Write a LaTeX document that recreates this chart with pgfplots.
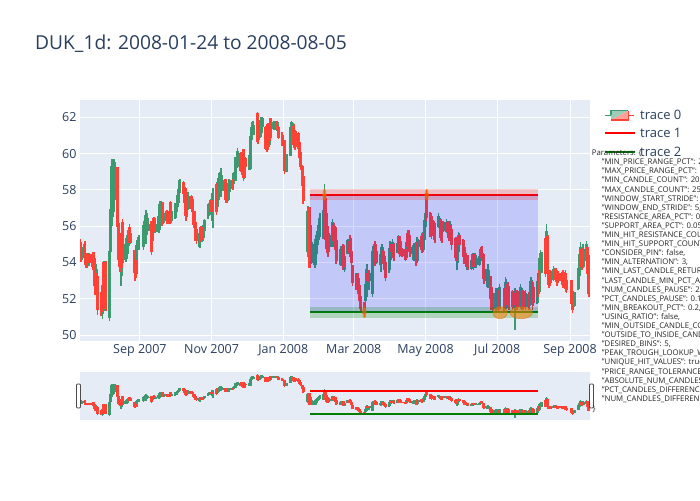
\documentclass[border=0pt]{standalone}
\usepackage{fontspec}
\setmainfont{Open Sans}
\usepackage{pgfplots}
\usepackage{pgfplotstable}
\pgfplotsset{compat=1.18}
\definecolor{bg}{HTML}{E5ECF6}
\definecolor{inc}{HTML}{3D9970}
\definecolor{dec}{HTML}{FF4136}
\definecolor{txt}{HTML}{2A3F5F}
\definecolor{pgreen}{HTML}{008000}
\definecolor{rred}{HTML}{FF0000}

\pgfplotstableread{
d o h l c
-52 54.3 55.2 54.1 55.0
-51 55.1 55.3 54.0 54.2
-50 54.2 55.1 54.0 54.8
-47 55.0 55.2 54.1 54.3
-46 54.3 54.5 53.7 53.9
-45 53.9 54.4 53.7 54.2
-44 54.0 54.5 53.8 54.4
-43 54.4 54.5 53.8 54.0
-40 54.4 54.6 53.6 53.8
-39 54.2 54.6 52.7 52.9
-38 53.4 53.6 52.2 52.5
-37 52.3 53.9 52.1 53.6
-36 53.2 53.3 51.1 51.4
-33 52.3 52.4 51.05 51.3
-32 51.2 53.0 50.9 52.7
-31 54.0 54.1 51.2 51.5
-30 51.5 54.1 51.3 53.9
-29 53.9 54.1 51.3 51.5
-26 51.0 55.0 50.75 54.6
-25 54.6 57.2 54.4 56.9
-24 56.6 59.7 56.0 59.3
-23 57.2 59.7 56.5 59.4
-22 57.5 59.7 56.8 59.5
-19 59.2 59.25 55.6 56.0
-18 56.1 56.2 53.9 54.2
-17 55.4 55.6 53.5 53.8
-16 53.3 55.6 52.7 55.2
-15 56.2 56.4 53.7 54.0
-12 54.2 55.2 54.0 55.0
-11 54.5 55.5 54.2 55.3
-10 55.0 55.8 54.5 55.6
-9 55.9 56.1 54.9 55.1
-8 55.1 55.8 55.0 55.6
-5 54.6 54.7 53.4 53.6
-4 54.1 54.3 53.0 53.2
-3 53.4 55.2 53.3 54.9
-2 54.9 55.4 54.8 55.2
-1 55.0 55.5 54.7 55.3
3 54.9 56.3 54.7 56.0
4 55.2 56.0 54.9 55.8
5 55.4 56.9 55.0 56.6
6 55.8 56.7 55.5 56.4
9 56.1 56.3 55.6 55.8
10 56.2 56.3 54.4 54.6
11 55.3 56.3 55.2 56.1
12 56.4 56.5 55.7 55.9
13 55.7 56.3 55.6 56.1
16 55.7 56.7 55.6 56.5
17 55.9 57.4 55.8 57.2
18 56.8 57.4 56.7 57.3
19 57.3 57.35 56.0 56.2
20 56.2 56.9 56.1 56.7
23 56.8 56.9 56.1 56.3
24 56.5 56.6 56.1 56.2
25 56.2 56.9 56.1 56.8
26 57.3 57.4 56.1 56.3
27 56.3 57.0 56.2 56.8
30 56.5 57.3 56.4 57.1
31 56.8 57.4 56.6 57.2
32 57.1 57.9 57.0 57.7
33 57.4 58.2 57.3 58.0
34 57.9 58.6 57.8 58.5
37 58.4 58.5 57.6 57.8
38 58.1 58.3 57.1 57.3
39 58.0 58.1 56.3 56.6
40 56.7 57.6 56.5 57.4
41 57.0 57.9 56.9 57.6
44 57.6 57.7 56.8 57.0
45 57.3 57.5 56.6 56.8
46 56.8 56.85 55.9 56.1
47 56.2 56.3 55.2 55.4
48 55.8 56.0 55.0 55.2
51 54.9 55.8 54.8 55.6
52 55.9 56.0 55.1 55.3
53 55.3 56.0 55.1 55.8
54 55.4 56.2 55.2 56.0
55 55.8 56.4 55.7 56.3
58 56.6 57.2 56.4 57.0
59 56.9 57.3 56.6 57.2
60 56.8 57.5 56.6 57.4
61 57.4 57.7 56.5 56.8
62 56.3 58.1 55.9 57.8
65 58.3 58.4 56.6 56.8
66 57.1 58.6 57.0 58.4
67 57.5 58.8 57.1 58.6
68 57.8 59.0 57.7 58.9
69 58.0 59.2 57.6 58.8
72 58.5 58.6 57.9 58.0
73 58.4 58.6 57.3 57.5
74 58.2 58.4 57.3 57.4
75 57.5 58.2 57.4 58.0
76 57.9 58.6 57.8 58.5
79 58.5 58.6 58.0 58.1
80 58.4 59.0 58.3 58.9
81 58.5 59.8 58.5 59.6
83 59.3 60.3 59.2 60.1
86 60.0 60.1 59.0 59.1
87 59.9 60.0 58.8 59.0
88 60.2 60.25 58.5 58.7
89 58.7 59.9 58.6 59.7
90 59.7 59.8 59.2 59.3
93 59.2 59.9 59.1 59.7
94 59.2 61.1 59.1 60.9
95 60.8 61.5 60.7 61.4
96 61.2 61.8 61.1 61.7
97 61.3 61.6 61.0 61.5
100 62.2 62.3 60.5 60.7
101 61.8 61.9 60.5 60.8
102 60.9 61.8 60.85 61.6
103 61.2 62.0 60.9 61.8
104 61.5 62.0 61.4 61.9
107 61.4 61.45 60.2 60.3
108 61.5 61.55 60.1 60.3
109 61.6 61.7 60.2 60.4
110 60.5 61.3 60.4 61.2
111 61.9 61.95 60.7 60.9
114 61.4 61.8 61.3 61.7
116 61.7 61.8 61.3 61.4
117 61.3 61.8 61.2 61.7
118 61.4 61.5 60.8 60.9
121 61.0 61.2 60.4 60.6
123 60.7 60.75 58.9 59.1
124 59.1 60.0 59.0 59.8
125 59.3 60.0 59.0 59.8
128 59.9 61.6 59.85 61.4
129 61.1 61.8 61.0 61.7
130 61.2 61.7 60.9 61.5
131 61.5 61.6 60.3 60.5
132 61.2 61.3 60.2 60.4
135 61.1 61.2 60.2 60.3
136 60.6 60.65 59.6 59.8
137 60.0 60.1 59.1 59.3
138 59.3 59.35 58.2 58.4
139 58.7 58.75 57.2 57.4
143 54.6 57.1 54.3 56.8
144 57.0 57.05 53.7 54.0
145 56.0 56.1 53.7 54.2
146 54.0 55.4 53.9 55.1
149 53.9 55.3 53.7 55.0
150 54.5 55.5 54.3 55.3
151 55.0 56.0 54.8 55.7
152 55.3 56.2 55.1 56.0
153 55.6 56.7 55.4 56.4
156 55.5 56.9 55.3 56.7
157 56.2 58.3 55.9 57.7
158 57.5 57.6 55.0 55.3
159 56.5 56.7 54.5 54.8
160 55.6 56.0 54.3 54.6
163 54.9 55.6 54.85 55.5
164 55.3 56.4 55.2 56.2
165 56.0 56.2 55.0 55.2
166 55.9 56.0 54.7 54.9
167 55.2 55.4 53.9 54.1
171 53.9 54.9 53.8 54.7
172 54.2 54.8 54.1 54.6
173 54.9 55.0 53.6 53.8
174 53.6 54.5 53.5 54.3
177 54.5 55.3 54.45 55.2
178 55.1 55.2 54.5 54.7
179 55.3 55.5 54.3 54.5
180 54.6 54.8 53.8 54.0
181 53.8 53.85 52.7 52.9
184 52.7 53.4 52.5 53.2
185 53.3 53.4 52.3 52.5
186 53.1 53.4 52.1 52.3
187 52.7 52.8 51.7 51.9
188 52.1 52.15 51.3 51.5
191 51.8 51.85 51.0 51.2
192 51.9 53.0 51.8 52.8
193 52.3 53.9 52.1 53.6
194 53.4 53.6 52.9 53.0
195 53.0 53.6 52.5 53.4
198 52.3 54.9 52.1 54.6
199 54.2 54.9 53.8 54.7
200 55.0 55.2 53.8 54.0
201 54.0 54.9 53.9 54.6
205 53.9 54.8 53.5 54.4
206 54.0 55.0 53.9 54.8
207 54.6 54.7 53.9 54.0
208 54.3 54.4 53.4 53.6
209 54.0 54.1 53.0 53.2
212 53.6 54.8 53.4 54.6
213 54.2 55.2 54.0 55.0
214 55.0 55.05 54.4 54.6
215 54.5 55.3 54.4 55.1
216 55.0 55.1 54.1 54.3
219 54.6 55.1 54.5 55.0
220 54.9 55.5 54.8 55.4
221 55.4 55.45 54.3 54.5
222 55.1 55.2 54.6 54.8
223 54.7 54.8 54.3 54.4
226 54.7 54.8 54.1 54.2
227 54.3 55.4 54.2 55.1
228 55.6 55.8 54.7 54.9
229 55.5 55.8 54.6 54.8
230 54.8 55.0 54.3 54.5
233 54.2 55.1 54.1 54.9
234 54.6 55.1 54.5 55.0
235 55.0 55.1 53.8 54.0
236 54.1 55.4 54.0 55.2
237 54.9 55.3 54.8 55.2
240 55.4 55.6 54.5 54.7
241 54.7 55.7 54.6 55.5
242 55.3 56.5 55.0 56.3
243 56.0 56.9 55.9 56.7
244 57.8 58.0 56.3 56.5
247 56.7 56.8 55.4 55.6
248 56.5 56.6 55.3 55.5
249 56.3 56.5 55.5 55.7
250 56.2 56.3 55.3 55.5
251 56.0 56.2 55.1 55.3
254 56.0 56.7 55.9 56.5
255 56.1 56.5 56.0 56.4
256 56.3 56.4 55.2 55.4
257 56.1 56.3 55.1 55.3
258 55.8 56.3 55.7 56.2
261 55.7 56.4 55.6 56.2
262 56.2 56.3 55.6 55.7
263 56.0 56.1 55.2 55.4
264 55.6 56.3 55.5 56.1
265 55.8 55.9 54.7 55.0
269 55.3 55.4 54.1 54.3
270 54.0 55.2 53.6 54.9
271 54.6 55.7 54.5 55.5
272 55.5 55.6 54.8 55.0
275 55.2 55.3 54.3 54.5
276 54.8 54.9 53.9 54.1
277 54.5 54.7 53.8 54.0
278 53.8 54.3 53.6 54.2
279 54.3 54.4 53.6 53.8
282 53.7 54.2 53.6 54.1
283 53.9 54.5 53.8 54.4
284 54.4 54.5 53.6 53.8
285 53.8 54.5 53.7 54.3
286 53.9 54.4 53.7 54.2
289 53.9 54.4 53.8 54.3
290 54.2 54.8 54.1 54.7
291 54.8 54.9 54.1 54.3
292 54.4 54.5 53.1 53.3
293 53.6 53.9 52.8 53.0
296 52.7 53.9 52.6 53.6
297 53.0 53.6 52.8 53.4
298 53.2 53.25 52.0 52.2
299 52.6 52.8 51.4 51.6
300 52.3 52.5 51.2 51.4
303 51.5 52.6 51.3 52.3
304 51.6 52.6 51.4 52.4
305 52.4 52.5 51.3 51.5
306 51.5 52.8 51.4 52.6
310 52.5 52.6 51.3 51.5
311 51.5 53.2 51.4 52.9
312 52.0 53.1 51.9 52.8
313 52.8 52.9 51.5 51.7
314 52.6 52.7 51.4 51.6
317 52.4 52.5 51.4 51.6
318 51.6 52.4 51.5 52.2
319 51.7 52.6 50.3 52.3
320 52.3 52.5 51.5 51.7
321 52.4 52.5 51.4 51.6
324 51.6 52.8 51.5 52.6
325 51.5 52.6 51.4 52.4
326 52.4 52.5 51.4 51.6
327 52.2 52.4 51.5 51.7
328 51.6 52.5 51.4 52.3
331 52.2 52.4 51.4 51.6
332 51.7 53.0 51.6 52.8
333 52.0 53.2 51.9 53.0
334 52.9 53.0 51.4 51.7
335 52.6 52.7 51.6 51.8
338 51.8 53.0 51.7 52.8
339 53.4 53.6 52.1 52.3
340 52.4 54.5 52.3 54.2
341 53.8 54.7 53.5 54.4
342 53.5 54.6 53.4 54.5
345 55.3 55.5 53.2 53.4
346 53.9 56.1 53.8 55.7
347 55.4 55.5 53.2 53.4
348 53.5 53.6 52.6 52.8
349 53.5 53.6 52.7 52.9
352 53.1 53.8 53.0 53.6
353 53.2 53.7 53.1 53.6
354 53.6 53.7 52.9 53.1
355 53.5 53.6 52.7 52.9
356 53.0 53.5 52.9 53.4
359 53.4 53.5 52.8 53.0
360 53.3 53.6 52.6 52.8
361 53.3 53.5 52.7 52.9
362 53.4 53.6 52.4 52.6
363 53.0 53.2 52.3 52.5
367 53.0 53.05 51.7 51.9
368 52.4 52.45 51.2 51.4
369 51.6 52.3 51.4 52.2
370 51.8 52.4 51.6 52.2
373 52.6 53.7 52.5 53.5
374 53.3 54.7 53.2 54.4
375 53.9 55.1 53.8 54.8
376 54.7 54.8 53.6 53.8
377 53.8 55.0 53.7 54.7
380 54.1 55.2 53.8 55.0
381 54.8 54.9 53.2 53.4
382 54.2 54.4 52.1 52.3
}\data

\newcommand{\candleset}[2]{%
  \addplot[draw=none, mark=none, forget plot,
    restrict expr to domain={\thisrow{c}-\thisrow{o}}{#2},
    error bars/.cd, y dir=both, y explicit, error mark=none,
    error bar style={draw=#1, line width=1.6pt}]
    table[x=d, y expr={(\thisrow{h}+\thisrow{l})/2},
      y error expr={(\thisrow{h}-\thisrow{l})/2}] {\data};
  \addplot[draw=none, mark=none, forget plot,
    restrict expr to domain={\thisrow{c}-\thisrow{o}}{#2},
    error bars/.cd, y dir=both, y explicit, error mark=none,
    error bar style={draw=#1, line width=3.1pt}]
    table[x=d, y expr={(\thisrow{o}+\thisrow{c})/2},
      y error expr={abs(\thisrow{c}-\thisrow{o})/2+0.04}] {\data};
}

\begin{document}
\begin{tikzpicture}
\useasboundingbox (0pt,0pt) rectangle (700pt,500pt);
\fill[white] (0pt,0pt) rectangle (700pt,500pt);

% title
\node[anchor=base west, inner sep=0pt, text=txt, font=\fontsize{19.2}{21}\selectfont] at (35pt,450pt) {DUK\_1d: 2008-01-24 to 2008-08-05};

% main axis
\begin{axis}[
  at={(80pt,159.3pt)}, anchor=south west, scale only axis,
  width=510pt, height=240.7pt,
  xmin=-51, xmax=383, ymin=49.69, ymax=62.95,
  axis background/.style={fill=bg},
  axis line style={draw=none},
  major tick length=0pt,
  grid=major, grid style={white, line width=1pt},
  xtick={0,61,122,182,243,304,366},
  xticklabels={Sep 2007,Nov 2007,Jan 2008,Mar 2008,May 2008,Jul 2008,Sep 2008},
  ytick={50,52,54,56,58,60,62},
  /pgf/number format/assume math mode=true,
  ticklabel style={font=\fontsize{12.5}{14}\selectfont, text=txt},
  clip=true,
]
\candleset{inc}{0.0001:100}
\candleset{dec}{-100:-0.0001}
\addplot[rred, line width=2pt, forget plot] coordinates {(145,57.72) (339,57.72)};
\addplot[pgreen, line width=2pt, forget plot] coordinates {(145,51.25) (339,51.25)};
\addplot[draw=none, fill=blue, fill opacity=0.15, forget plot] coordinates {(145,51.25) (339,51.25) (339,57.72) (145,57.72)} -- cycle;
\addplot[draw=none, fill=red, fill opacity=0.2, forget plot] coordinates {(145,57.42) (339,57.42) (339,58.02) (145,58.02)} -- cycle;
\addplot[draw=none, fill=pgreen, fill opacity=0.22, forget plot] coordinates {(145,50.95) (339,50.95) (339,51.55) (145,51.55)} -- cycle;
\addplot[only marks, mark=*, mark size=5.5pt, forget plot,
  mark options={xscale=0.32, fill=orange, fill opacity=0.55, draw=orange!85!black, draw opacity=0.6, line width=0.6pt}]
  coordinates {(157,57.72) (244,57.72) (191,51.25)};
\addplot[only marks, mark=*, mark size=6pt, forget plot,
  mark options={xscale=1.2, fill=orange, fill opacity=0.55, draw=orange!85!black, draw opacity=0.6, line width=0.6pt}]
  coordinates {(306.5,51.23)};
\addplot[only marks, mark=*, mark size=6pt, forget plot,
  mark options={xscale=1.86, fill=orange, fill opacity=0.55, draw=orange!85!black, draw opacity=0.6, line width=0.6pt}]
  coordinates {(324.4,51.23)};
\end{axis}

% range slider
\begin{axis}[
  at={(80pt,80pt)}, anchor=south west, scale only axis,
  width=510pt, height=48pt,
  xmin=-51, xmax=383, ymin=49.69, ymax=62.95,
  axis background/.style={fill=bg},
  axis line style={draw=none},
  ticks=none,
  clip=true,
]
\candleset{inc}{0.0001:100}
\candleset{dec}{-100:-0.0001}
\addplot[rred, line width=2pt, forget plot] coordinates {(145,57.72) (339,57.72)};
\addplot[pgreen, line width=2pt, forget plot] coordinates {(145,51.25) (339,51.25)};
\end{axis}
% slider handles
\draw[fill=white, draw=black!70, line width=0.8pt, rounded corners=1pt] (76.5pt,92pt) rectangle (80.5pt,116pt);
\draw[fill=white, draw=black!70, line width=0.8pt, rounded corners=1pt] (589.5pt,92pt) rectangle (593.5pt,116pt);

% legend
\fill[inc!50!white] (611pt,380pt) -- (611pt,389.3pt) -- (628.3pt,389.3pt) -- cycle;
\fill[dec!50!white] (611pt,380pt) -- (628.3pt,380pt) -- (628.3pt,389.3pt) -- cycle;
\draw[inc, line width=1.5pt] (605pt,384.7pt) -- (611pt,384.7pt);
\draw[inc, line width=1.2pt] (611pt,384.7pt) -- (611pt,389.3pt) -- (628.3pt,389.3pt);
\draw[dec, line width=1.2pt] (611pt,380pt) -- (628.3pt,380pt) -- (628.3pt,389.3pt);
\draw[dec, line width=1.5pt] (628.3pt,384.7pt) -- (634.3pt,384.7pt);
\draw[rred, line width=2pt] (605pt,366.7pt) -- (635pt,366.7pt);
\draw[pgreen, line width=2pt] (605pt,347.7pt) -- (635pt,347.7pt);
\node[anchor=west, inner sep=0pt, text=txt, font=\fontsize{13}{15}\selectfont] at (640pt,384.7pt) {trace 0};
\node[anchor=west, inner sep=0pt, text=txt, font=\fontsize{13}{15}\selectfont] at (640pt,366.7pt) {trace 1};
\node[anchor=west, inner sep=0pt, text=txt, font=\fontsize{13}{15}\selectfont] at (640pt,347.7pt) {trace 2};

% parameters annotation
\begin{scope}[every node/.style={anchor=west, inner sep=0pt, text=black!85, font=\fontsize{7.8}{9}\selectfont}]
\node at (591.7pt,346.6pt) {Parameters: \{};
\node at (601.7pt,337.5pt) {"MIN\_PRICE\_RANGE\_PCT": 2,};
\node at (601.7pt,328.4pt) {"MAX\_PRICE\_RANGE\_PCT": 15,};
\node at (601.7pt,319.3pt) {"MIN\_CANDLE\_COUNT": 20,};
\node at (601.7pt,310.2pt) {"MAX\_CANDLE\_COUNT": 250,};
\node at (601.7pt,301.1pt) {"WINDOW\_START\_STRIDE": 1,};
\node at (601.7pt,292.0pt) {"WINDOW\_END\_STRIDE": 5,};
\node at (601.7pt,282.9pt) {"RESISTANCE\_AREA\_PCT": 0.05,};
\node at (601.7pt,273.8pt) {"SUPPORT\_AREA\_PCT": 0.05,};
\node at (601.7pt,264.7pt) {"MIN\_HIT\_RESISTANCE\_COUNT": 2,};
\node at (601.7pt,255.6pt) {"MIN\_HIT\_SUPPORT\_COUNT": 2,};
\node at (601.7pt,246.5pt) {"CONSIDER\_PIN": false,};
\node at (601.7pt,237.4pt) {"MIN\_ALTERNATION": 3,};
\node at (601.7pt,228.3pt) {"MIN\_LAST\_CANDLE\_RETURN\_PCT": 0.5,};
\node at (601.7pt,219.2pt) {"LAST\_CANDLE\_MIN\_PCT\_ABOVE": 0.5,};
\node at (601.7pt,210.1pt) {"NUM\_CANDLES\_PAUSE": 2,};
\node at (601.7pt,201.0pt) {"PCT\_CANDLES\_PAUSE": 0.1,};
\node at (601.7pt,191.9pt) {"MIN\_BREAKOUT\_PCT": 0.2,};
\node at (601.7pt,182.8pt) {"USING\_RATIO": false,};
\node at (601.7pt,173.7pt) {"MIN\_OUTSIDE\_CANDLE\_COUNT": 5,};
\node at (601.7pt,164.6pt) {"OUTSIDE\_TO\_INSIDE\_CANDLE\_RATIO": 1,};
\node at (601.7pt,155.5pt) {"DESIRED\_BINS": 5,};
\node at (601.7pt,146.4pt) {"PEAK\_TROUGH\_LOOKUP\_WINDOW": 3,};
\node at (601.7pt,137.3pt) {"UNIQUE\_HIT\_VALUES": true,};
\node at (601.7pt,128.2pt) {"PRICE\_RANGE\_TOLERANCE": 0.1,};
\node at (601.7pt,119.1pt) {"ABSOLUTE\_NUM\_CANDLES": 5,};
\node at (601.7pt,110.0pt) {"PCT\_CANDLES\_DIFFERENCE": 0.1,};
\node at (601.7pt,100.9pt) {"NUM\_CANDLES\_DIFFERENCE": 5};
\node at (592.5pt,91.0pt) {\}};
\end{scope}
\end{tikzpicture}
\end{document}
